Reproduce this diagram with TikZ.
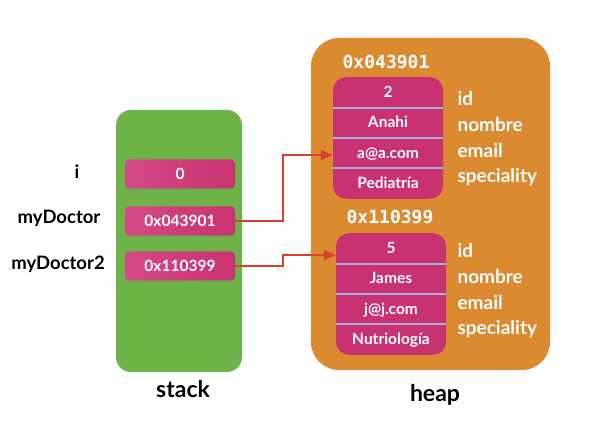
\documentclass[tikz,border=0pt]{standalone}
\usepackage{fontspec}
\setmainfont{Lato}
\setmonofont{DejaVu Sans Mono}
\usepackage{tikz}
\usetikzlibrary{shapes.multipart, arrows.meta, shadows}

\definecolor{stackgreen}{HTML}{6DB348}
\definecolor{heaporange}{HTML}{DB8A30}
\definecolor{cellpink}{HTML}{C83270}
\definecolor{celllight}{HTML}{D44A86}
\definecolor{splitblue}{HTML}{A9AEE3}
\definecolor{ptrred}{HTML}{D9412B}

\newcommand{\rowtxt}[1]{\rule[-10pt]{0pt}{30pt}#1}

\begin{document}
\begin{tikzpicture}[x=1pt, y=-1pt,
  every node/.style={font=\bfseries},
  var/.style={font=\fontsize{18.5}{20}\selectfont\bfseries, text=black},
  cell/.style={rounded corners=4pt, left color=celllight, right color=cellpink, text=white,
    minimum width=110pt, minimum height=29pt, inner sep=0pt,
    drop shadow={shadow xshift=0pt, shadow yshift=-1.5pt, opacity=0.35},
    font=\fontsize{15.5}{17}\selectfont\bfseries},
  record/.style={rectangle split, rectangle split parts=4, rounded corners=13pt,
    fill=cellpink, text=white, minimum width=110pt, inner xsep=2pt, inner ysep=0pt,
    font=\fontsize{15.5}{17}\selectfont\bfseries},
  split/.style={splitblue, line width=2pt},
  addr/.style={text=white, font=\fontsize{18}{20}\selectfont\ttfamily\bfseries},
  field/.style={text=white, anchor=west, font=\fontsize{19}{21}\selectfont\bfseries},
  title/.style={font=\fontsize{23}{25}\selectfont\bfseries},
  ptr/.style={ptrred, line width=1.8pt, -{Triangle[length=12pt, width=10pt]}}]
\useasboundingbox (0,0) rectangle (592,435);

% stack
\fill[stackgreen, rounded corners=15pt] (116,110) rectangle (242,372);
\node[title] (stacklbl) at (183,389) {stack};
\node[cell] (vi) at (180,174) {0};
\node[cell] (p1) at (180,221) {0x043901};
\node[cell] (p2) at (180,266) {0x110399};
\node[var] (li) at (77,172) {i};
\node[var] (lp1) at (59,218) {myDoctor};
\node[var] (lp2) at (58,264) {myDoctor2};

% heap
\fill[heaporange, rounded corners=28pt] (311,38) rectangle (550,370);
\node[title] (heaplbl) at (435,395) {heap};

\node[addr] (a1) at (386,62) {0x043901};
\node[record, anchor=north] (r1) at (388,77)
  {\rowtxt{2} \nodepart{two} \rowtxt{Anahi} \nodepart{three} \rowtxt{a@a.com} \nodepart{four} \rowtxt{Pediatría}};
\node[addr] (a2) at (390,217) {0x110399};
\node[record, anchor=north] (r2) at (391,233)
  {\rowtxt{5} \nodepart{two} \rowtxt{James} \nodepart{three} \rowtxt{j@j.com} \nodepart{four} \rowtxt{Nutriología}};

\foreach \r in {r1, r2} {
  \foreach \s in {text, two, three} {
    \draw[split] (\r.\s\space split west) -- (\r.\s\space split east);
  }
}

\foreach \r/\y in {r1/99, r2/251} {
  \node[field] at (454,\y) {id};
  \node[field] at (454,\y+26) {nombre};
  \node[field] at (454,\y+52) {email};
  \node[field] at (454,\y+78) {speciality};
}

% pointers
\coordinate (in1) at (r1.west |- 0,155);
\coordinate (in2) at (r2.west |- 0,255);
\draw[ptr] (p1.east) -- ++(48,0) |- (in1);
\draw[ptr] (p2.east) -- ++(48,0) |- (in2);
\end{tikzpicture}
\end{document}
